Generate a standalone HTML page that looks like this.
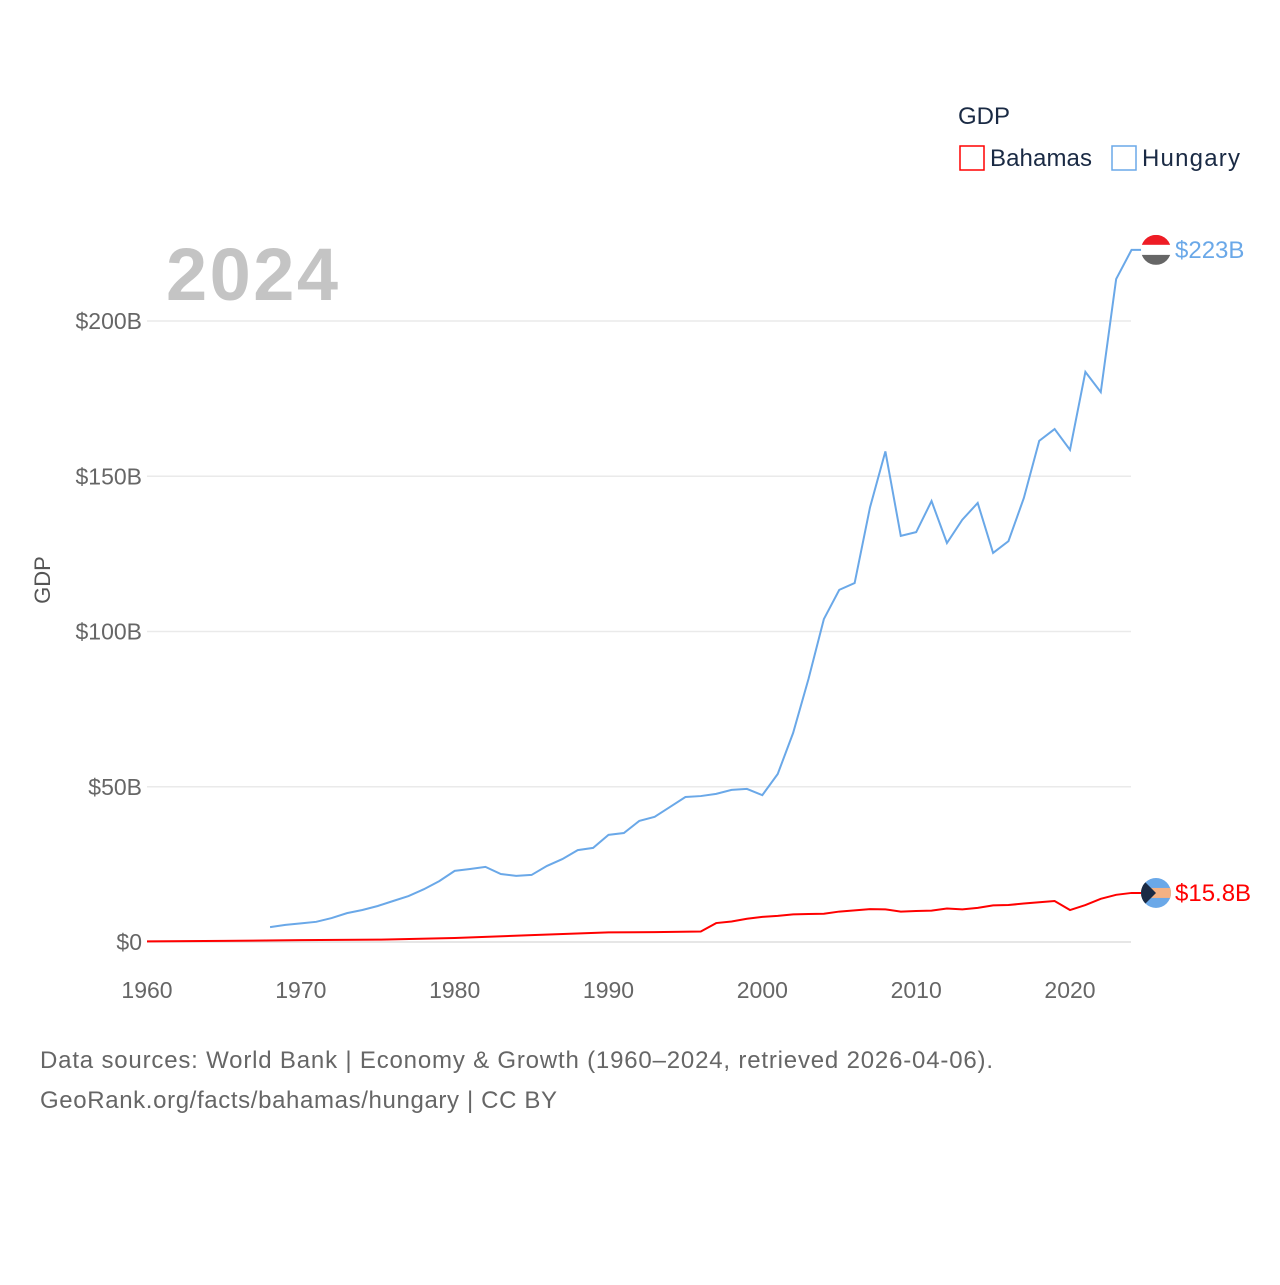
<!DOCTYPE html>
<html><head><meta charset="utf-8"><style>
body{margin:0;background:#fff;font-family:"Liberation Sans",sans-serif}
svg text{font-family:"Liberation Sans",sans-serif}
</style></head><body>
<svg width="1280" height="1280" viewBox="0 0 1280 1280">
<text x="958" y="124" font-size="24" fill="#1a2a44">GDP</text>
<rect x="960" y="146" width="24" height="24" fill="none" stroke="#ff0000" stroke-width="1.5"/>
<text x="990" y="166" font-size="24" fill="#1a2a44" textLength="102">Bahamas</text>
<rect x="1112" y="146" width="24" height="24" fill="none" stroke="#6aa8e8" stroke-width="1.5"/>
<text x="1142" y="166" font-size="24" fill="#1a2a44" textLength="98">Hungary</text>
<text x="166" y="300" font-size="74" font-weight="bold" fill="#c4c4c4" textLength="172">2024</text>
<text x="50" y="580" font-size="22" fill="#555" transform="rotate(-90 50 580)" text-anchor="middle">GDP</text>
<g id="grid"></g><g id="lines"></g>
<text x="40" y="1068" font-size="24" fill="#666" textLength="953">Data sources: World Bank | Economy &amp; Growth (1960–2024, retrieved 2026-04-06).</text>
<text x="40" y="1108" font-size="24" fill="#666" textLength="517">GeoRank.org/facts/bahamas/hungary | CC BY</text>
</svg>
<script>
const yTicks=[0,50,100,150,200];
const yTickLabels=["$0","$50B","$100B","$150B","$200B"];
const xTicks=[1960,1970,1980,1990,2000,2010,2020];
const hungaryYears=[1968,1969,1970,1971,1972,1973,1974,1975,1976,1977,1978,1979,1980,1981,1982,1983,1984,1985,1986,1987,1988,1989,1990,1991,1992,1993,1994,1995,1996,1997,1998,1999,2000,2001,2002,2003,2004,2005,2006,2007,2008,2009,2010,2011,2012,2013,2014,2015,2016,2017,2018,2019,2020,2021,2022,2023,2024];
const hungary=[4.8,5.5,6,6.5,7.7,9.3,10.3,11.6,13.2,14.8,17,19.6,22.9,23.5,24.2,21.9,21.3,21.6,24.5,26.7,29.6,30.3,34.5,35.1,39,40.3,43.5,46.7,47,47.7,49,49.3,47.3,54.1,67.3,84.7,104,113.4,115.6,140,158,130.8,132,142,128.5,136,141.4,125.3,129.1,143,161.4,165.2,158.5,183.6,177.1,213.5,222.9];
const bahamasYears=[1960,1965,1970,1975,1980,1985,1990,1993,1996,1997,1998,1999,2000,2001,2002,2003,2004,2005,2006,2007,2008,2009,2010,2011,2012,2013,2014,2015,2016,2017,2018,2019,2020,2021,2022,2023,2024];
const bahamas=[0.2,0.35,0.6,0.75,1.3,2.2,3.1,3.2,3.4,6.1,6.6,7.5,8.1,8.4,8.9,9,9.1,9.8,10.2,10.6,10.5,9.8,10,10.1,10.8,10.5,11,11.8,11.9,12.4,12.8,13.2,10.3,11.9,13.9,15.2,15.8];
const ns="http://www.w3.org/2000/svg";
const X=y=>147+(y-1960)*(1070-147)/60;
const Y=v=>942-v*(942-321)/200;
const grid=document.getElementById('grid'),lines=document.getElementById('lines');
yTicks.forEach((t,i)=>{
 const l=document.createElementNS(ns,'line');
 l.setAttribute('x1',147);l.setAttribute('x2',1131);l.setAttribute('y1',Y(t));l.setAttribute('y2',Y(t));
 l.setAttribute('stroke',t===0?'#ddd':'#eaeaea');l.setAttribute('stroke-width',1.5);
 
 
 grid.appendChild(l);
 const tx=document.createElementNS(ns,'text');
 tx.setAttribute('x',142);tx.setAttribute('y',Y(t)+8);tx.setAttribute('text-anchor','end');tx.setAttribute('font-size',23);tx.setAttribute('fill','#666');
 tx.textContent=yTickLabels[i];
 
 
 grid.appendChild(tx);
});
xTicks.forEach(t=>{
 const tx=document.createElementNS(ns,'text');
 tx.setAttribute('x',X(t));tx.setAttribute('y',998);tx.setAttribute('text-anchor','middle');tx.setAttribute('font-size',23);tx.setAttribute('fill','#666');
 tx.textContent=t;
 
 
 grid.appendChild(tx);
});
function drawLine(years,vals,color,name){
 const pts=years.map((y,i)=>X(y)+','+Y(vals[i]));
 pts.push('1142,'+Y(vals[vals.length-1]));
 const p=document.createElementNS(ns,'polyline');
 p.setAttribute('points',pts.join(' '));
 p.setAttribute('fill','none');p.setAttribute('stroke',color);p.setAttribute('stroke-width',2);
 
 
 lines.appendChild(p);
}
drawLine(hungaryYears,hungary,'#6aa8e8','hungary-line');
drawLine(bahamasYears,bahamas,'#ff0000','bahamas-line');
function endLabel(val,color,txt,name,flag){
 const cx=1156,cy=Y(val);
 const g=document.createElementNS(ns,'g');
 g.innerHTML=flag(cx,cy);
 
 
 lines.appendChild(g);
 const tx=document.createElementNS(ns,'text');
 tx.setAttribute('x',1175);tx.setAttribute('y',cy+8);tx.setAttribute('font-size',24);tx.setAttribute('fill',color);
 tx.textContent=txt;
 
 
 lines.appendChild(tx);
}
endLabel(hungary[hungary.length-1],'#6aa8e8','$223B','hungary',(x,y)=>`<clipPath id="c1"><circle cx="${x}" cy="${y}" r="15"/></clipPath><g clip-path="url(#c1)"><rect x="${x-15}" y="${y-15}" width="30" height="10" fill="#ee1c25"/><rect x="${x-15}" y="${y-5}" width="30" height="10" fill="#fff"/><rect x="${x-15}" y="${y+5}" width="30" height="10" fill="#666"/></g>`);
endLabel(bahamas[bahamas.length-1],'#ff0000','$15.8B','bahamas',(x,y)=>`<clipPath id="c2"><circle cx="${x}" cy="${y}" r="15"/></clipPath><g clip-path="url(#c2)"><rect x="${x-15}" y="${y-15}" width="30" height="30" fill="#6aa8e8"/><rect x="${x-15}" y="${y-5}" width="30" height="10" fill="#f4b183"/><polygon points="${x-15},${y-15} ${x},${y} ${x-15},${y+15}" fill="#1a2a44"/></g>`);
</script>
</body></html>
